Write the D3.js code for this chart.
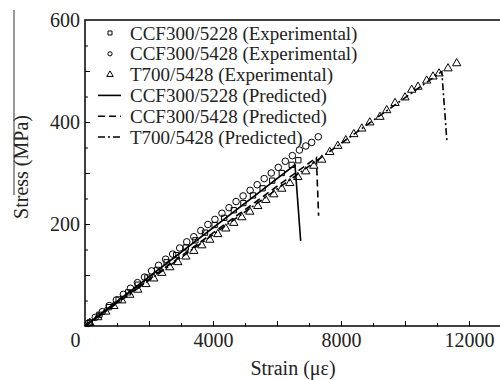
<!DOCTYPE html>
<html>
<head>
<meta charset="utf-8">
<script src="https://cdn.jsdelivr.net/npm/d3@7"></script>
<style>
  body { margin: 0; background: #fff; }
  svg { display: block; }
  svg text { font-family: "Liberation Serif", "Times New Roman", "DejaVu Serif", serif; }
</style>
</head>
<body>
<svg></svg>
<script>
width = 500;
height = 380;

// experimental data: [strain (microstrain), stress (MPa)]
const ccf5228Exp = [
  [150, 7], [450, 22], [750, 37], [1050, 52], [1350, 66], [1650, 81], [1950, 95],
  [2250, 110], [2550, 125], [2850, 139], [3150, 154], [3450, 168], [3750, 183],
  [4050, 198], [4350, 212], [4650, 227], [4950, 241], [5250, 256], [5550, 270],
  [5850, 285], [6150, 300], [6459, 316], [6666, 325]
];
const ccf5428Exp = [
  [100, 5], [320, 17], [540, 28], [760, 40], [980, 51], [1200, 62], [1420, 74],
  [1640, 85], [1860, 96], [2080, 108], [2300, 119], [2520, 131], [2740, 141],
  [2960, 153], [3180, 165], [3400, 175], [3620, 187], [3840, 199], [4060, 209],
  [4280, 221], [4500, 232], [4720, 244], [4940, 255], [5160, 266], [5380, 277],
  [5600, 289], [5820, 300], [6040, 311], [6260, 323], [6480, 334], [6700, 345],
  [6900, 353], [7084, 360], [7290, 371]
];
const t700Exp = [
  [150, 6], [400, 17], [650, 28], [900, 39], [1150, 50], [1400, 61], [1650, 71],
  [1900, 82], [2150, 93], [2400, 104], [2650, 115], [2900, 125], [3150, 136],
  [3400, 147], [3650, 158], [3900, 169], [4150, 180], [4400, 191], [4650, 202],
  [4900, 213], [5150, 224], [5400, 235], [5650, 247], [5900, 258], [6150, 269],
  [6400, 280], [6650, 292], [6900, 303], [7150, 314], [7400, 326], [7650, 341],
  [7900, 353], [8150, 364], [8400, 376], [8650, 387], [8900, 399], [9219, 410],
  [9428, 423], [9688, 437], [10000, 448], [10209, 463], [10406, 469], [10678, 481],
  [10875, 489], [11063, 495], [11344, 505], [11615, 515]
];

// predicted curves
const ccf5228Pred = [[0, 0], [6563, 316], [6740, 167]];
const ccf5428Pred = [[0, 0], [7230, 330], [7300, 216]];
const t700Pred = [[0, 0], [11150, 499], [11310, 362]];

const legendLabels = [
  "CCF300/5228 (Experimental)",
  "CCF300/5428 (Experimental)",
  "T700/5428 (Experimental)",
  "CCF300/5228 (Predicted)",
  "CCF300/5428 (Predicted)",
  "T700/5428 (Predicted)"
];

const xTicks = [0, 4000, 8000, 12000];
const yTicks = [200, 400, 600];

const font = "20px";

let svg = d3.select("svg").attr("width", width).attr("height", height);

let x = d3.scaleLinear().domain([0, 13000]).range([85, 501]);
let y = d3.scaleLinear().domain([0, 600]).range([326, 20]);

// frame
svg.append("rect")
  .attr("x", x(0)).attr("y", y(600))
  .attr("width", x(13000) - x(0)).attr("height", y(0) - y(600))
  .style("fill", "none").style("stroke", "#111").style("stroke-width", 1.6);

// minor ticks
svg.append("g")
  .attr("transform", "translate(0," + y(0) + ")")
  .call(d3.axisBottom(x).tickValues(d3.range(1000, 13000, 2000)).tickSize(-3).tickFormat(""))
  .call(g => g.select(".domain").remove());
svg.append("g")
  .attr("transform", "translate(" + x(0) + ",0)")
  .call(d3.axisLeft(y).tickValues(d3.range(50, 600, 100)).tickSize(-3).tickFormat(""))
  .call(g => g.select(".domain").remove());

// major ticks
svg.append("g")
  .attr("transform", "translate(0," + y(0) + ")")
  .call(d3.axisBottom(x).tickValues(d3.range(2000, 13000, 2000)).tickSize(-5).tickFormat(""))
  .call(g => g.select(".domain").remove());
svg.append("g")
  .attr("transform", "translate(" + x(0) + ",0)")
  .call(d3.axisLeft(y).tickValues(d3.range(100, 600, 100)).tickSize(-5).tickFormat(""))
  .call(g => g.select(".domain").remove());

// tick labels
let xAxis = svg.append("g")
  .attr("transform", "translate(0," + y(0) + ")")
  .call(d3.axisBottom(x).tickValues(xTicks).tickSize(0).tickPadding(7).tickFormat(d3.format("d")));
xAxis.select(".domain").remove();
xAxis.attr("font-family", null);
xAxis.selectAll("text").style("font-size", font).style("fill", "#222");
xAxis.selectAll(".tick").filter(d => d === 0).select("text").attr("dx", -10);

let yAxis = svg.append("g")
  .attr("transform", "translate(" + x(0) + ",0)")
  .call(d3.axisLeft(y).tickValues(yTicks).tickSize(0).tickPadding(5).tickFormat(d3.format("d")));
yAxis.select(".domain").remove();
yAxis.attr("font-family", null);
yAxis.selectAll("text").style("font-size", font).style("fill", "#222");

// axis titles
svg.append("text")
  .attr("x", 293).attr("y", 375)
  .attr("text-anchor", "middle")
  .style("font-size", font).style("fill", "#222")
  .text("Strain (με)");

svg.append("text")
  .attr("transform", "translate(28,167) rotate(-90)")
  .attr("text-anchor", "middle")
  .style("font-size", font).style("fill", "#222")
  .text("Stress (MPa)");

svg.append("line")
  .attr("x1", 14).attr("x2", 14).attr("y1", 10).attr("y2", 195)
  .style("stroke", "#333").style("stroke-width", 1);

// lines
let line = d3.line().x(d => x(d[0])).y(d => y(d[1]));
const predStyles = [
  {data: ccf5228Pred, dash: null},
  {data: ccf5428Pred, dash: "7,4"},
  {data: t700Pred, dash: "7,3,2,3"}
];
predStyles.forEach(p => {
  svg.append("path")
    .attr("d", line(p.data))
    .style("fill", "none")
    .style("stroke", "#000")
    .style("stroke-width", 1.6)
    .style("stroke-dasharray", p.dash);
});

// markers
const expSeries = [
  {data: ccf5228Exp, type: d3.symbolSquare, size: 28},
  {data: ccf5428Exp, type: d3.symbolCircle, size: 34},
  {data: t700Exp, type: d3.symbolTriangle, size: 30}
];
expSeries.forEach(s => {
  svg.append("g").selectAll("path")
    .data(s.data)
    .join("path")
    .attr("d", d3.symbol().type(s.type).size(s.size))
    .attr("transform", d => "translate(" + x(d[0]) + "," + y(d[1]) + ")")
    .style("fill", "none")
    .style("stroke", "#000")
    .style("stroke-width", 1);
});

// legend
let legend = svg.append("g");
const legendY = d3.scaleLinear().domain([0, 5]).range([33, 137]);
const legendSym = [d3.symbolSquare, d3.symbolCircle, d3.symbolTriangle];
const legendSize = [16, 14, 18];
legendLabels.forEach((label, i) => {
  let ly = legendY(i);
  if (i < 3) {
    legend.append("path")
      .attr("d", d3.symbol().type(legendSym[i]).size(legendSize[i]))
      .attr("transform", "translate(110," + ly + ")")
      .style("fill", "none").style("stroke", "#000").style("stroke-width", 1);
  } else {
    legend.append("line")
      .attr("x1", 98).attr("x2", 121).attr("y1", ly).attr("y2", ly)
      .style("stroke", "#000").style("stroke-width", 1.6)
      .style("stroke-dasharray", predStyles[i - 3].dash);
  }
  legend.append("text")
    .attr("x", 130).attr("y", ly)
    .attr("dy", "0.35em")
    .style("font-size", "19px").style("fill", "#222")
    .text(label);
});
</script>
</body>
</html>
